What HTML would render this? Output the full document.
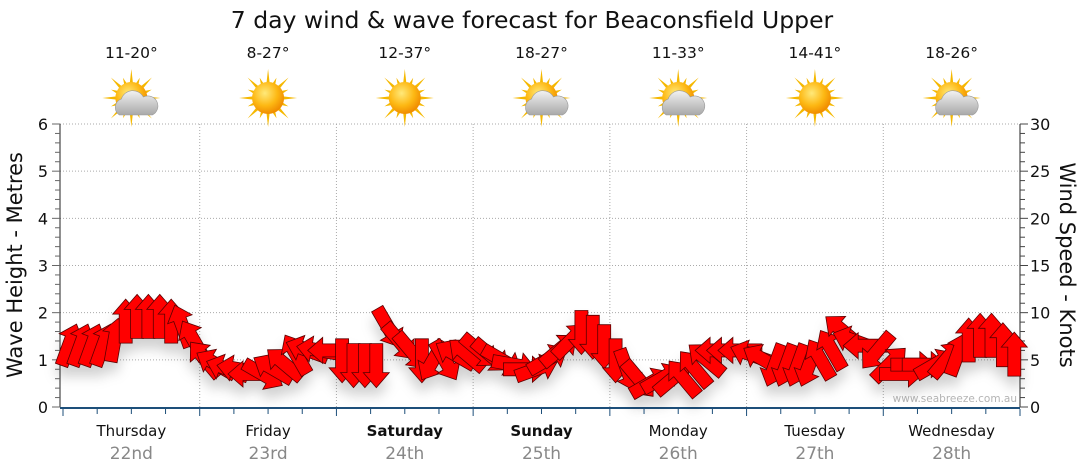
<!DOCTYPE html>
<html><head><meta charset="utf-8"><style>
body{margin:0;background:#fff;font-family:"Liberation Sans","DejaVu Sans",sans-serif}
svg{display:block}
</style></head><body>
<svg id="c" width="1080" height="475" font-family="DejaVu Sans, Liberation Sans, sans-serif">
<defs>
<filter id="sh" x="-50%" y="-50%" width="200%" height="200%"><feDropShadow dx="0" dy="10" stdDeviation="6" flood-color="#000" flood-opacity="0.18"/></filter>
<radialGradient id="sun" cx="40%" cy="35%" r="65%"><stop offset="0" stop-color="#ffe97a"/><stop offset="0.6" stop-color="#fdb813"/><stop offset="1" stop-color="#f08c00"/></radialGradient>
<linearGradient id="cl" x1="0" y1="0" x2="0" y2="1"><stop offset="0" stop-color="#f2f2f2"/><stop offset="1" stop-color="#a8a8a8"/></linearGradient>
</defs>
<text x="532" y="28" font-size="23.5" text-anchor="middle" fill="#111">7 day wind &amp; wave forecast for Beaconsfield Upper</text>
<g id="grid"></g><g id="axes"></g><g id="top"></g>
<text x="1017" y="402" font-size="10.5" text-anchor="end" fill="#b4b4b4">www.seabreeze.com.au</text>
<g id="arrows" filter="url(#sh)"></g>
<text transform="translate(22,265) rotate(-90)" font-size="21" text-anchor="middle" fill="#111">Wave Height - Metres</text>
<text transform="translate(1060,265) rotate(90)" font-size="21" text-anchor="middle" fill="#111">Wind Speed - Knots</text>
</svg>
<script>
const days=["Thursday","Friday","Saturday","Sunday","Monday","Tuesday","Wednesday"];
const dates=["22nd","23rd","24th","25th","26th","27th","28th"];
const temps=["11-20°","8-27°","12-37°","18-27°","11-33°","14-41°","18-26°"];
const cloudy=[1,0,0,1,1,0,1];
const boldDays=[0,0,1,1,0,0,0];
const waveTicks=[0,1,2,3,4,5,6];
const windTicks=[0,5,10,15,20,25,30];
const windSpeed=[6.5,6.5,6.5,6.5,7,9,9.5,9.5,9.5,9,8.5,7,
 5,4.5,4,4,3.5,3.5,4,4.5,5.5,6,6,6,
 5,4.5,4.5,4.5,8.5,7,6,5,5,5,5.5,5.5,
 6,5.5,5,4.5,4,4,5,6,7,8,7.5,6.5,
 5,4,3,2.5,3,3,3,4,5,6,6,6,
 5.5,5,4.5,4.5,4.5,4.5,5,6,8,7,6.5,6,
 4.5,3.5,4.5,4.5,4.5,5,5.5,7,7.5,7.5,6.5,5.5];
const windDir=[20,20,20,20,10,0,0,0,0,0,-20,-30,
 -40,-60,-70,-80,-90,120,-60,-50,-30,-70,-80,-90,
 180,180,180,180,150,140,140,180,210,150,-60,-50,
 130,130,120,100,90,70,60,50,45,180,180,180,
 180,160,140,60,60,50,-40,-40,-50,-90,-90,-90,
 -70,-60,200,200,200,200,-30,-30,-50,-70,-90,220,
 45,90,90,90,60,40,20,0,0,0,0,0];
const NS="http://www.w3.org/2000/svg";
const X0=60,X1=1020,Y0=407,Y1=124,DAYW=(X1-63)/7;
function yW(m){return Y0-(m/6)*(Y0-Y1);}
function yK(k){return Y0-(k/30)*(Y0-Y1);}
function xT(i){return 63+(i+0.5)*DAYW/12;}
function mk(tag,attrs,parent,txt){const e=document.createElementNS(NS,tag);for(const k in attrs)e.setAttribute(k,attrs[k]);if(txt!==undefined)e.textContent=txt;document.getElementById(parent).appendChild(e);return e;}
waveTicks.forEach(m=>{if(m===0)return;const l=mk('line',{x1:X0,x2:X1,y1:yW(m),y2:yW(m),stroke:'#aaa','stroke-dasharray':'1,2'},'grid');

});
for(let d=1;d<7;d++){const x=63+d*DAYW;const l=mk('line',{x1:x,x2:x,y1:Y1,y2:Y0,stroke:'#aaa','stroke-dasharray':'1,2'},'grid');

}
mk('line',{x1:X0,x2:X0,y1:Y1,y2:Y0,stroke:'#222'},'axes');
mk('line',{x1:X1,x2:X1,y1:Y1,y2:Y0,stroke:'#222'},'axes');
mk('line',{x1:X0,x2:X1,y1:Y0+1,y2:Y0+1,stroke:'#1d4f7a','stroke-width':2},'axes');
for(let i=0;i<=30;i++){const y=Y0-i*(Y0-Y1)/30;mk('line',{x1:X0-(i%5==0?8:5),x2:X0,y1:y,y2:y,stroke:'#666'},'axes');mk('line',{x1:X1,x2:X1+(i%5==0?8:5),y1:y,y2:y,stroke:'#444'},'axes');}
waveTicks.forEach(m=>{const t=mk('text',{x:48,y:yW(m)+6,'font-size':16,'text-anchor':'end',fill:'#111'},'axes',m);

});
windTicks.forEach(k=>{const t=mk('text',{x:1030,y:yK(k)+6,'font-size':16,fill:'#111'},'axes',k);

});
for(let i=0;i<=28;i++){const x=63+i*DAYW/4;mk('line',{x1:x,x2:x,y1:Y0+2,y2:Y0+(i%4==0?9:7),stroke:'#1d4f7a'},'axes');}
days.forEach((d,i)=>{const cx=63+(i+0.5)*DAYW;
const t=mk('text',{x:cx,y:436,'font-size':15,'text-anchor':'middle',fill:'#111','font-weight':boldDays[i]?'bold':'normal'},'axes',d);


const t2=mk('text',{x:cx,y:459,'font-size':17,'text-anchor':'middle',fill:'#888'},'axes',dates[i]);


const t3=mk('text',{x:cx,y:58,'font-size':15.5,'text-anchor':'middle',fill:'#111'},'top',temps[i]);


const g=mk('g',{transform:`translate(${cx},98)`},'top');


let rays='';for(let r=0;r<16;r++){const a=r*Math.PI/8,L=r%2?22:29;const a1=a-0.12,a2=a+0.12;rays+=`<polygon points="${(14*Math.cos(a1)).toFixed(1)},${(14*Math.sin(a1)).toFixed(1)} ${(L*Math.cos(a)).toFixed(1)},${(L*Math.sin(a)).toFixed(1)} ${(14*Math.cos(a2)).toFixed(1)},${(14*Math.sin(a2)).toFixed(1)}" fill="#f5b800"/>`;}
g.innerHTML=rays+'<circle r="16" fill="url(#sun)"/>'+(cloudy[i]?'<path d="M-12,17 a9,9 0 0 1 2,-16 a12,12 0 0 1 22,-2 a9,9 0 0 1 9,18 z" fill="url(#cl)" stroke="#999" stroke-width="0.6"/>':'');
});
windSpeed.forEach((k,i)=>{
 const p=mk('polygon',{points:"0,-23 13,-8 6.5,-8 6.5,21 -6.5,21 -6.5,-8 -13,-8",fill:'#f00',stroke:'#5a0000','stroke-width':0.8,
  transform:`translate(${xT(i).toFixed(1)},${yK(k).toFixed(1)}) rotate(${windDir[i]})`},'arrows');
 
 
});
</script>
</body></html>
